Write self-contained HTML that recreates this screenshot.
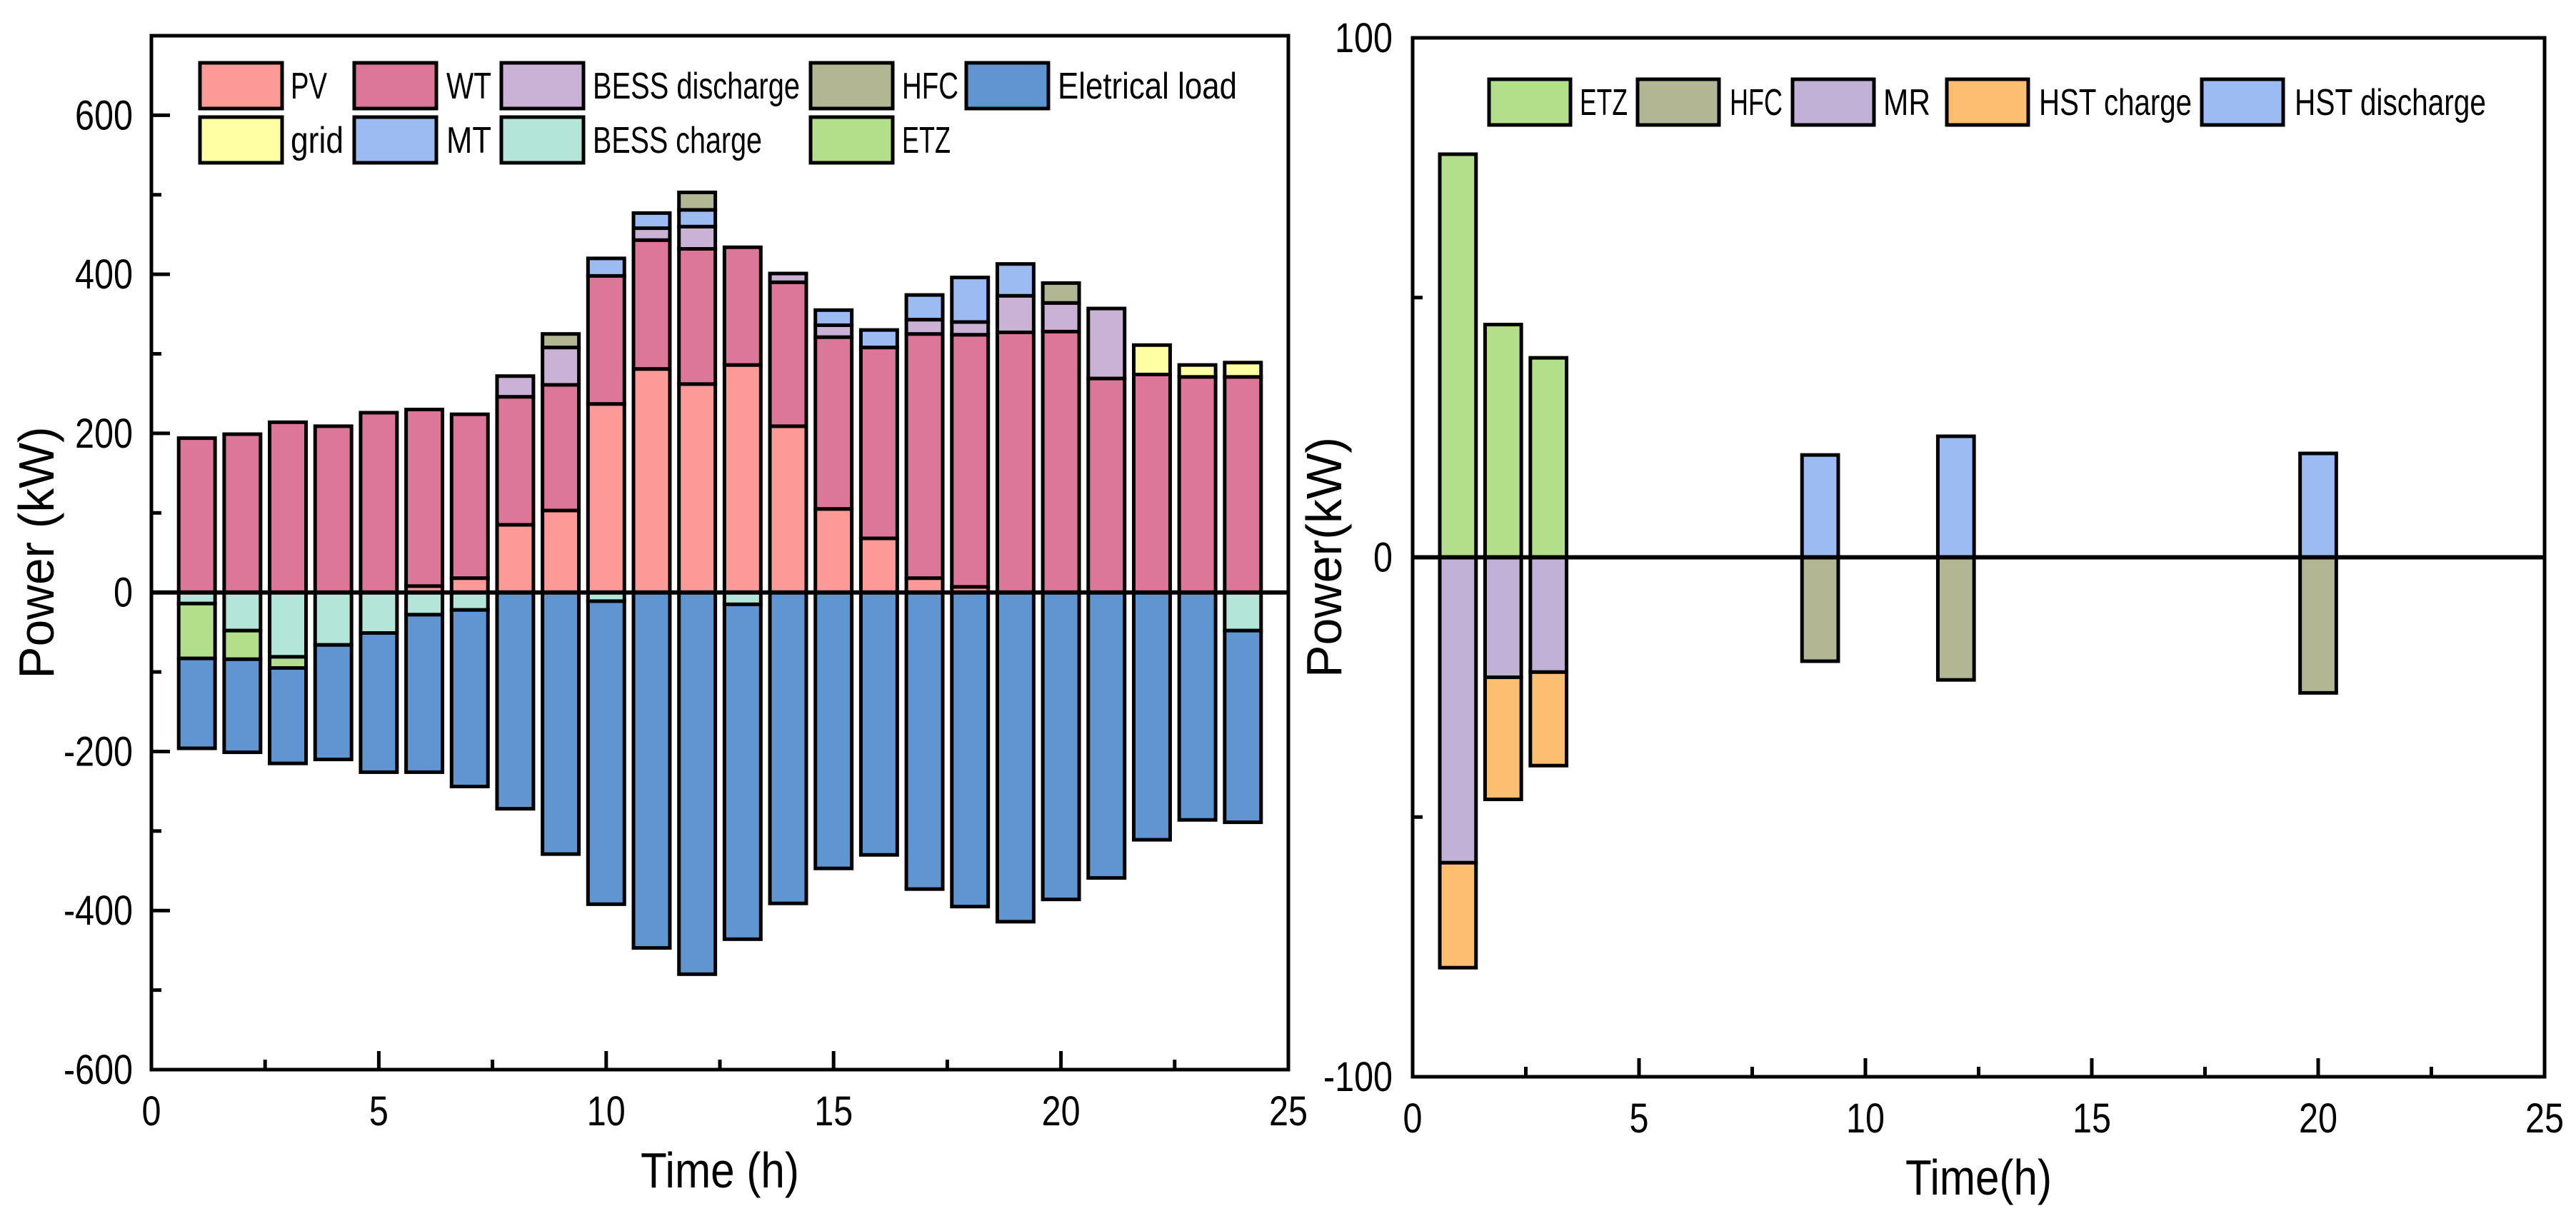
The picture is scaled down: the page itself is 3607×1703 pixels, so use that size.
<!DOCTYPE html>
<html><head><meta charset="utf-8">
<style>
html,body{margin:0;padding:0;background:#fff;}
svg{display:block;font-family:"Liberation Sans",sans-serif;}
</style></head>
<body>
<svg id="chart" width="3607" height="1703" viewBox="0 0 3607 1703" xmlns="http://www.w3.org/2000/svg"></svg>
<script>
// ---- Left chart data (kW) ----
const hours = [1,2,3,4,5,6,7,8,9,10,11,12,13,14,15,16,17,18,19,20,21,22,23,24];
const pv    = [0,0,0,0,0,8,18,85,103,237,281,262,286,209,105,68,18,7,0,0,0,0,0,0];
const wt    = [194,199,214,209,226,222,206,161,158,161,162,170,148,181,216,240,307,317,327,328,269,274,271,271];
const bessD = [0,0,0,0,0,0,0,26,47,0,15,28,0,11,15,0,18,16,46,36,88,0,0,0];
const mt    = [0,0,0,0,0,0,0,0,0,22,19,21,0,0,19,22,31,56,40,0,0,0,0,0];
const hfcL  = [0,0,0,0,0,0,0,0,17,0,0,22,0,0,0,0,0,0,0,25,0,0,0,0];
const grid  = [0,0,0,0,0,0,0,0,0,0,0,0,0,0,0,0,0,0,0,0,0,37,15,18];
const bessC = [-14,-48,-81,-66,-51,-28,-22,0,0,-11,0,0,-15,0,0,0,0,0,0,0,0,0,0,-48];
const etzL  = [-69,-36,-14,0,0,0,0,0,0,0,0,0,0,0,0,0,0,0,0,0,0,0,0,0];
const load  = [-113,-117,-120,-144,-175,-198,-222,-272,-329,-381,-447,-480,-421,-391,-347,-330,-373,-395,-414,-386,-359,-311,-286,-241];
const leftYTicks = [-600,-400,-200,0,200,400,600];
const xTicks = [0,5,10,15,20,25];
// ---- Right chart data (kW) ----
const hHours = [1,2,3,9,12,20];
const etzR   = [77.6,44.8,38.4,0,0,0];
const hstD   = [0,0,0,19.7,23.3,20.0];
const mr     = [-58.8,-23.1,-22.1,0,0,0];
const hstC   = [-20.2,-23.5,-18.0,0,0,0];
const hfcR   = [0,0,0,-20.0,-23.6,-26.1];
const rightYTicks = [-100,0,100];

const C = {pv:'#FC9A98',wt:'#DC7799',bessD:'#CAB2D6',hfc:'#B2B693',load:'#5F96D1',grid:'#FFFFA3',mt:'#9CBBF2',bessC:'#B3E6D8',etz:'#B3DF8A',mr:'#C2B1D6',hstC:'#FDBE70',hstD:'#9CBBF2'};
const NS='http://www.w3.org/2000/svg';
const svg=document.getElementById('chart');
function mk(tag,attrs,parent){const e=document.createElementNS(NS,tag);for(const k in attrs)e.setAttribute(k,attrs[k]);(parent||svg).appendChild(e);return e;}
function numLen(s){let w=0;for(const ch of String(s))w+=(ch==='-')?16:27;return w;}

const L={x0:212,x1:1804,y0:50,y1:1498,xmin:0,xmax:25,ymin:-600,ymax:700};
const R={x0:1978,x1:3563,y0:53,y1:1508,xmin:0,xmax:25,ymin:-100,ymax:100};
function sx(A,v){return A.x0+(v-A.xmin)/(A.xmax-A.xmin)*(A.x1-A.x0);}
function sy(A,v){return A.y1-(v-A.ymin)/(A.ymax-A.ymin)*(A.y1-A.y0);}

function drawStack(A,xs,series,name){
  const g=mk('g',{});
  
  
  xs.forEach((h,i)=>{
    let pos=0,neg=0;
    series.forEach(s=>{
      const v=s.data[i]; if(!v) return;
      let a,b;
      if(v>0){a=pos;b=pos+v;pos=b;} else {a=neg;b=neg+v;neg=b;}
      const xl=sx(A,h-0.4), xr=sx(A,h+0.4);
      const yt=sy(A,Math.max(a,b)), yb=sy(A,Math.min(a,b));
      const r=mk('rect',{x:xl,y:yt,width:xr-xl,height:yb-yt,fill:s.color,stroke:'#000','stroke-width':5},g);
      
      
    });
  });
}

function drawAxes(A,yTicks,minorStepY,name,titleY,titleX,titleYx,ylabRight,yTitleLen,xTitleLen){
  const g=mk('g',{});
  
  
  for(let v=A.ymin;v<=A.ymax+1e-9;v+=minorStepY){
    const major=yTicks.includes(v);
    const y=sy(A,v);
    mk('line',{x1:A.x0,x2:A.x0+(major?26:14),y1:y,y2:y,stroke:'#000','stroke-width':5},g);
  }
  for(let v=0;v<=25;v+=2.5){
    const major=xTicks.includes(v);
    const x=sx(A,v);
    mk('line',{x1:x,x2:x,y1:A.y1,y2:A.y1-(major?26:14),stroke:'#000','stroke-width':5},g);
  }
  yTicks.forEach(v=>{
    const t=mk('text',{x:ylabRight,y:sy(A,v)+20,'text-anchor':'end','font-size':58,textLength:numLen(v),lengthAdjust:'spacingAndGlyphs'},g);
    t.textContent=v;
    
    
  });
  xTicks.forEach(v=>{
    const t=mk('text',{x:sx(A,v),y:A.y1+78,'text-anchor':'middle','font-size':58,textLength:numLen(v),lengthAdjust:'spacingAndGlyphs'},g);
    t.textContent=v;
    
    
  });
  const z=mk('line',{x1:A.x0,x2:A.x1,y1:sy(A,0),y2:sy(A,0),stroke:'#000','stroke-width':6},g);
  
  
  const f=mk('rect',{x:A.x0,y:A.y0,width:A.x1-A.x0,height:A.y1-A.y0,fill:'none',stroke:'#000','stroke-width':5},g);
  
  
  const cy=(A.y0+A.y1)/2;
  const yt=mk('text',{x:titleYx,y:cy,'text-anchor':'middle','font-size':70,textLength:yTitleLen,lengthAdjust:'spacingAndGlyphs',transform:'rotate(-90 '+titleYx+' '+cy+')'},g);
  yt.textContent=titleY;
  
  
  const xt=mk('text',{x:(A.x0+A.x1)/2,y:A.y1+165,'text-anchor':'middle','font-size':70,textLength:xTitleLen,lengthAdjust:'spacingAndGlyphs'},g);
  xt.textContent=titleX;
  
  
}

function legend(items,name){
  const g=mk('g',{});
  
  
  items.forEach(it=>{
    const r=mk('rect',{x:it.sx,y:it.y,width:it.w,height:64,fill:it.color,stroke:'#000','stroke-width':5},g);
    
    
    const t=mk('text',{x:it.tx,y:it.y+50,'font-size':52,textLength:it.len,lengthAdjust:'spacingAndGlyphs'},g);
    t.textContent=it.label;
    
    
  });
}

drawStack(L,hours,[
  {key:'pv',data:pv,color:C.pv},{key:'wt',data:wt,color:C.wt},{key:'bess-discharge',data:bessD,color:C.bessD},
  {key:'mt',data:mt,color:C.mt},{key:'hfc',data:hfcL,color:C.hfc},{key:'grid',data:grid,color:C.grid},
  {key:'bess-charge',data:bessC,color:C.bessC},{key:'etz',data:etzL,color:C.etz},{key:'load',data:load,color:C.load}
],'left');
drawAxes(L,leftYTicks,100,'left','Power (kW)','Time (h)',75,186,353,222);

drawStack(R,hHours,[
  {key:'etz',data:etzR,color:C.etz},{key:'hst-discharge',data:hstD,color:C.hstD},
  {key:'mr',data:mr,color:C.mr},{key:'hst-charge',data:hstC,color:C.hstC},{key:'hfc',data:hfcR,color:C.hfc}
],'right');
drawAxes(R,rightYTicks,50,'right','Power(kW)','Time(h)',1878,1950,337,205);

legend([
  {key:'pv',label:'PV',color:C.pv,sx:280,w:115,tx:407,y:88,len:51},
  {key:'wt',label:'WT',color:C.wt,sx:496,w:115,tx:625,y:88,len:63},
  {key:'bess-discharge',label:'BESS discharge',color:C.bessD,sx:702,w:115,tx:830,y:88,len:290},
  {key:'hfc',label:'HFC',color:C.hfc,sx:1135,w:115,tx:1263,y:88,len:79},
  {key:'load',label:'Eletrical load',color:C.load,sx:1353,w:115,tx:1481,y:88,len:251},
  {key:'grid',label:'grid',color:C.grid,sx:280,w:115,tx:407,y:164,len:74},
  {key:'mt',label:'MT',color:C.mt,sx:496,w:115,tx:625,y:164,len:63},
  {key:'bess-charge',label:'BESS charge',color:C.bessC,sx:702,w:115,tx:830,y:164,len:237},
  {key:'etz',label:'ETZ',color:C.etz,sx:1135,w:115,tx:1263,y:164,len:68}
],'left');
legend([
  {key:'r-etz',label:'ETZ',color:C.etz,sx:2085,w:114,tx:2212,y:111,len:67},
  {key:'r-hfc',label:'HFC',color:C.hfc,sx:2293,w:114,tx:2422,y:111,len:74},
  {key:'r-mr',label:'MR',color:C.mr,sx:2510,w:114,tx:2637,y:111,len:66},
  {key:'r-hst-charge',label:'HST charge',color:C.hstC,sx:2726,w:114,tx:2855,y:111,len:214},
  {key:'r-hst-discharge',label:'HST discharge',color:C.hstD,sx:3083,w:114,tx:3213,y:111,len:268}
],'right');
</script>
</body></html>
